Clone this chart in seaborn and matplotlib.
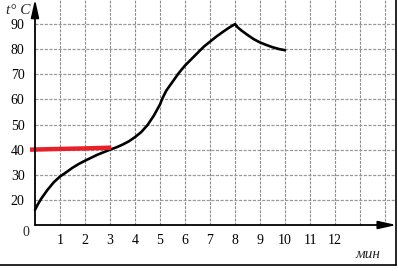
import matplotlib
matplotlib.use("Agg")
import matplotlib.pyplot as plt
import seaborn as sns
import pandas as pd
from matplotlib.lines import Line2D

# data
time_min = [0, 0.1, 0.25, 0.5, 0.75, 1, 1.25, 1.5, 1.75, 2, 2.25, 2.5, 2.75, 3, 3.25, 3.5, 3.75,
            4, 4.25, 4.5, 4.75, 5, 5.1, 5.25, 5.5, 5.75, 6, 6.25, 6.5, 6.75, 7, 7.25, 7.5, 7.75,
            8, 8.1, 8.25, 8.5, 8.75, 9, 9.25, 9.5, 9.75, 10]
temp_c = [16, 18, 20.5, 24, 27, 29.3, 31, 32.8, 34.3, 35.6, 36.8, 38, 39, 40, 40.9, 42, 43.3,
          45, 47, 49.8, 53.5, 58, 60.5, 63.5, 67, 70.5, 73.5, 76, 78.5, 81, 83, 85, 86.8, 88.5,
          90, 88.8, 87.5, 85.7, 84, 82.7, 81.7, 80.8, 80.1, 79.6]
red_x = [-0.2, 1.0, 2.0, 3.05]
red_y = [40.0, 40.3, 40.5, 40.8]
x_ticks = list(range(0, 13))
x_tick_labels = [""] + [str(i) for i in range(1, 13)]
y_ticks = [20, 30, 40, 50, 60, 70, 80, 90]
y_tick_labels = [str(v) for v in y_ticks]

sns.set_theme(style="white")
plt.rcParams['font.family'] = ['Liberation Serif', 'DejaVu Serif']

W, H = 398, 271
fig = plt.figure(figsize=(W / 100, H / 100), dpi=100)
ax = fig.add_axes([35 / W, (H - 225) / H, (396 - 35) / W, 225 / H])
ax.set_xlim(0, (396 - 35) / 25)
ax.set_ylim(10, 99.6)
for s in ax.spines.values():
    s.set_visible(False)
ax.set_facecolor("white")

# grid
for gx in range(1, 15):
    ax.axvline(gx, color="#8a8a8a", lw=0.8, ls=(0, (2.5, 1.2)), zorder=1)
for gy in y_ticks:
    ax.axhline(gy, color="#999999", lw=0.9, ls=(0, (2.5, 1.2)), zorder=1)

df = pd.DataFrame({"t": time_min, "T": temp_c})
sns.lineplot(data=df, x="t", y="T", ax=ax, color="black", lw=1.9, zorder=4, clip_on=False)
dr = pd.DataFrame({"t": red_x, "T": red_y})
sns.lineplot(data=dr, x="t", y="T", ax=ax, color="#e8202a", lw=3.2, zorder=5, clip_on=False,
             solid_capstyle="butt")

# axes arrows
ax.annotate("", xy=(14.46, 10), xytext=(0, 10), xycoords="data",
            arrowprops=dict(arrowstyle="-|>,head_length=0.9,head_width=0.2", color="black", lw=1.3,
                            shrinkA=0, shrinkB=0), annotation_clip=False, zorder=6)
ax.annotate("", xy=(0, 99.9), xytext=(0, 10), xycoords="data",
            arrowprops=dict(arrowstyle="-|>,head_length=0.9,head_width=0.2", color="black", lw=1.3,
                            shrinkA=0, shrinkB=0), annotation_clip=False, zorder=6)

ax.set_xticks(x_ticks)
ax.set_xticklabels(x_tick_labels)
ax.set_yticks(y_ticks)
ax.set_yticklabels(y_tick_labels)
ax.tick_params(axis="both", direction="inout", length=7, width=1.2, color="black",
               labelsize=10, labelcolor="black")
ax.tick_params(axis="x", pad=3)
ax.tick_params(axis="y", pad=4)
ax.set_xlabel("")
ax.set_ylabel("")

fig.text(26 / W, 1 - 232 / H, "0", ha="center", va="center", fontsize=10)
fig.text(18 / W, 1 - 10 / H, "t° C", ha="center", va="center", fontsize=11, style="italic")
fig.text(368 / W, 1 - 254 / H, "мин", ha="center", va="center", fontsize=11, style="italic")

# outer frame lines
fig.add_artist(Line2D([0, 396 / W], [(H - 265) / H] * 2, color="black", lw=1.2))
fig.add_artist(Line2D([396 / W] * 2, [(H - 265) / H, 1], color="black", lw=1.2))

fig.savefig("out.png", dpi=100, facecolor="white")
